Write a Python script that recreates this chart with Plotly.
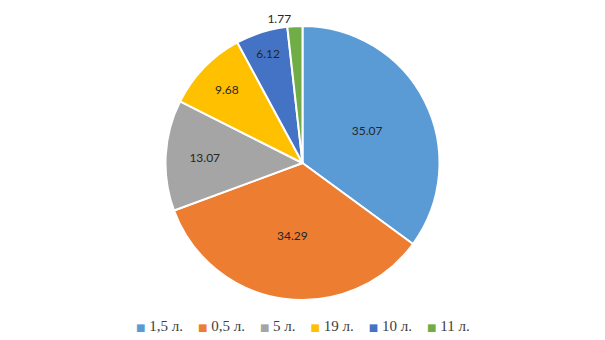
import plotly.graph_objects as go

labels = ["1,5 л.", "0,5 л.", "5 л.", "19 л.", "10 л.", "11 л."]
values = [35.07, 34.29, 13.07, 9.68, 6.12, 1.77]
colors = ["#5B9BD5", "#ED7D31", "#A5A5A5", "#FFC000", "#4472C4", "#70AD47"]
text_positions = ["inside", "inside", "inside", "inside", "inside", "outside"]

fig = go.Figure(go.Pie(
    labels=labels,
    values=values,
    sort=False,
    direction="clockwise",
    rotation=0,
    marker=dict(colors=colors, line=dict(color="white", width=2)),
    texttemplate="%{value}",
    textposition=text_positions,
    insidetextorientation="horizontal",
    textfont=dict(family="Lato", size=12, color="#262626"),
    showlegend=False,
))

# legend rendered as one text line built from labels and colors
legend_parts = [
    f'<span style="color:{c};font-family:DejaVu Sans;font-size:10px">■</span>&nbsp;{lab}'
    for lab, c in zip(labels, colors)
]
legend_text = "&nbsp;&nbsp;&nbsp;&nbsp;".join(legend_parts)

fig.add_annotation(
    text=legend_text,
    xref="paper", yref="paper",
    x=0.5, xanchor="center",
    y=-0.095, yanchor="middle",
    showarrow=False,
    font=dict(family="Liberation Serif", size=15, color="#404040"),
)

fig.update_layout(
    width=605, height=340,
    margin=dict(l=0, r=0, t=26, b=40, autoexpand=False),
    paper_bgcolor="white",
    plot_bgcolor="white",
)

fig.write_html("out.html")
